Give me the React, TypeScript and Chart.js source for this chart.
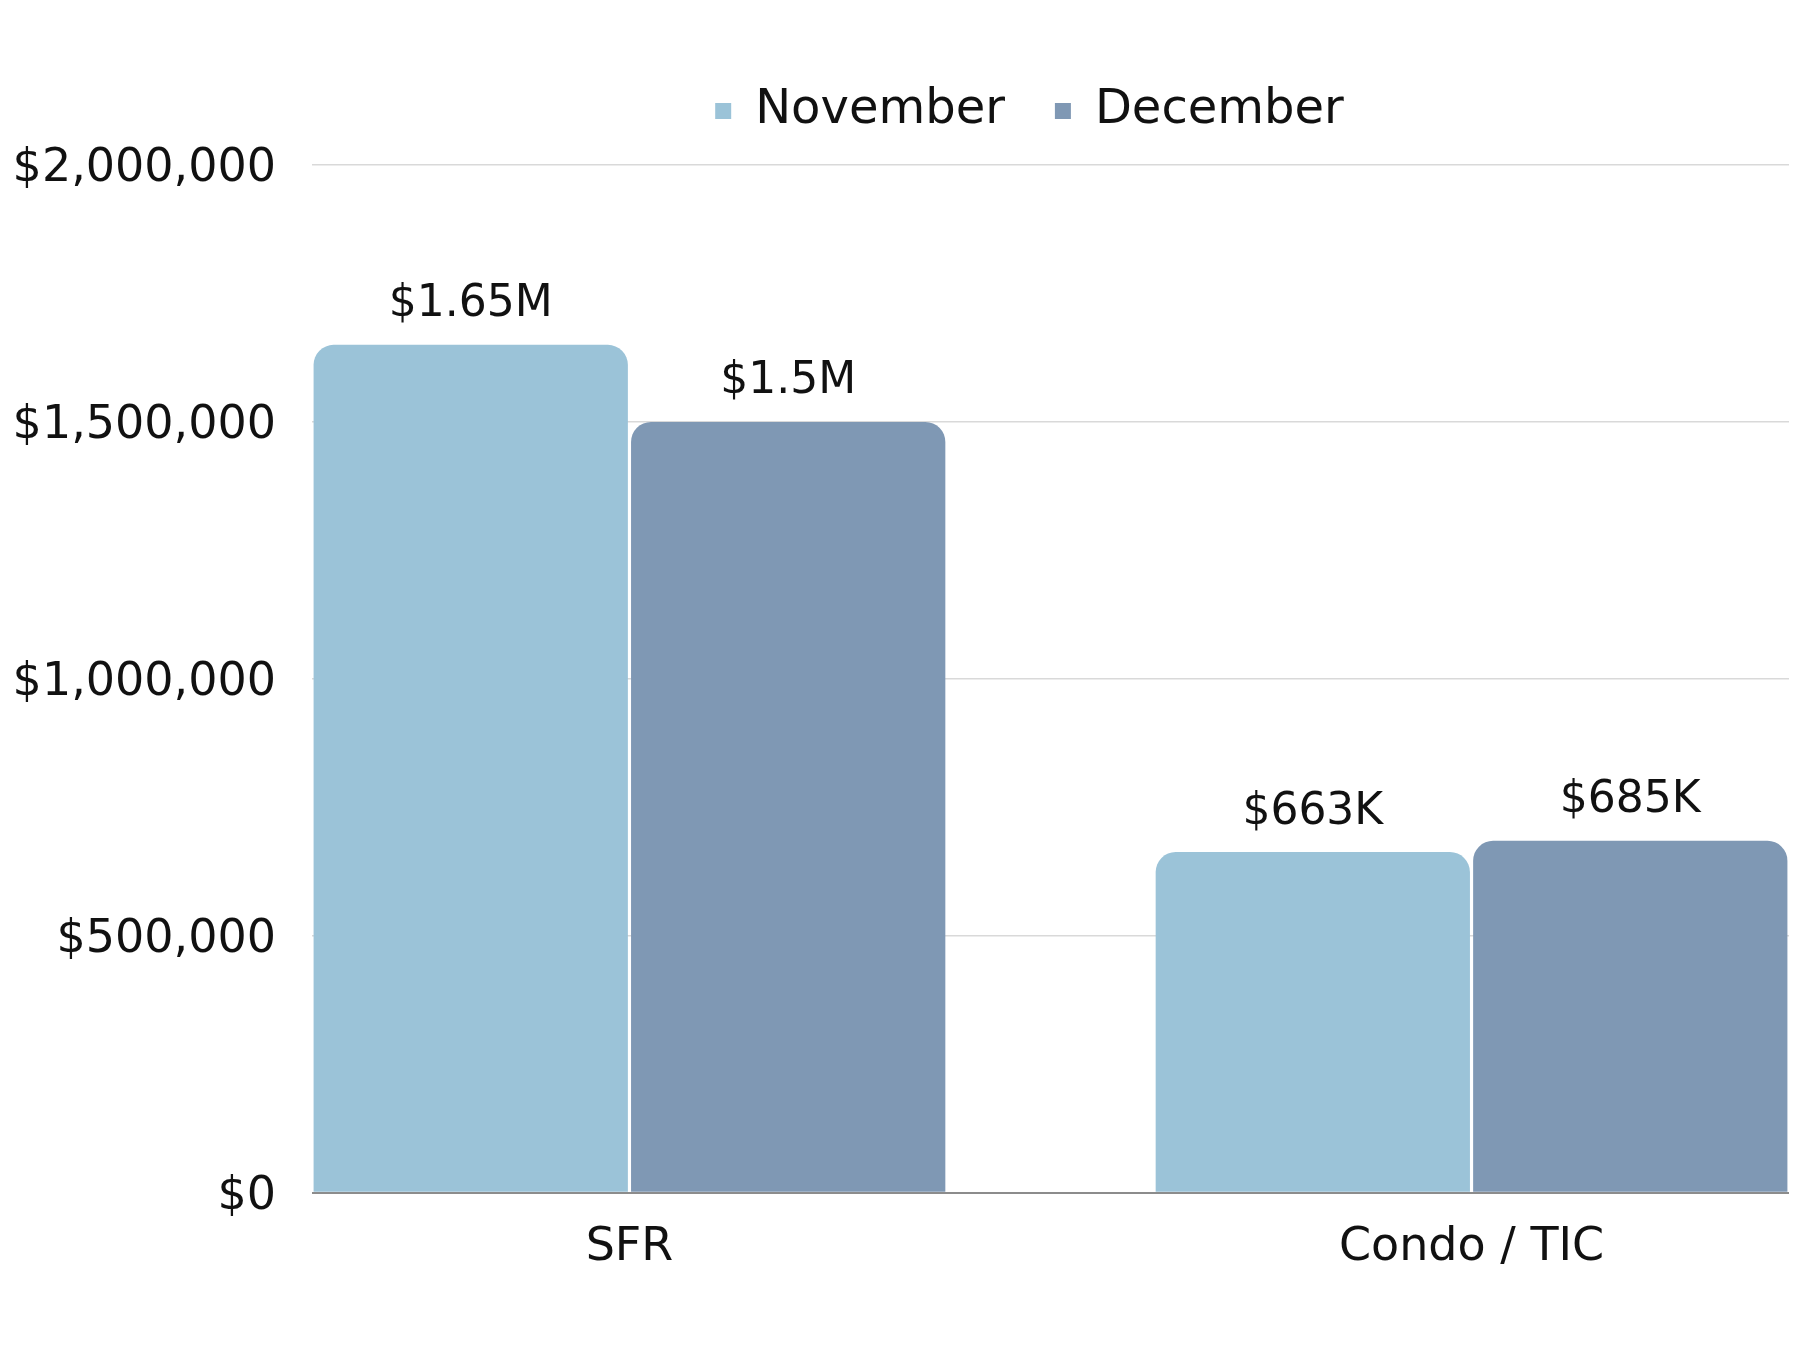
import React, { useEffect, useRef } from "react";
import { Chart, registerables } from "chart.js";

Chart.register(...registerables);

const categories = ["SFR", "Condo / TIC"];
const seriesNames = ["November", "December"];
const novemberValues = [1650000, 663000];
const decemberValues = [1500000, 685000];
const seriesColors = ["#9BC3D8", "#7F98B4"];
const yTicks = [0, 500000, 1000000, 1500000, 2000000];

const FONT = "'DejaVu Sans', sans-serif";
const CAT_PCT = 0.754;
const LEGEND_SHIFT = 129;

function fmtTick(v: number) {
  return "$" + Math.round(v).toLocaleString("en-US");
}
function fmtLabel(v: number) {
  if (v >= 1000000) return "$" + +(v / 1000000).toFixed(2) + "M";
  return "$" + Math.round(v / 1000) + "K";
}

const dataLabelPlugin = {
  id: "barValueLabels",
  afterDatasetsDraw(chart: any) {
    const ctx = chart.ctx;
    ctx.save();
    ctx.font = `44px ${FONT}`;
    ctx.fillStyle = "#111111";
    ctx.textAlign = "center";
    ctx.textBaseline = "middle";
    chart.data.datasets.forEach((ds: any, di: number) => {
      const meta = chart.getDatasetMeta(di);
      meta.data.forEach((el: any, i: number) => {
        ctx.fillText(fmtLabel(ds.data[i]), el.x, el.y - 40);
      });
    });
    ctx.restore();
  },
};

const legendSpacePlugin = {
  id: "legendSpace",
  beforeInit(chart: any) {
    const legend = chart.legend;
    if (!legend) return;
    const orig = legend.fit;
    legend.fit = function () {
      orig.call(this);
      this.height += 20;
    };
  },
  afterLayout(chart: any) {
    const legend = chart.legend;
    if (!legend) return;
    legend.left += LEGEND_SHIFT;
    legend.right += LEGEND_SHIFT;
  },
};

export default function App() {
  const ref = useRef<HTMLCanvasElement | null>(null);
  useEffect(() => {
    document.body.style.margin = "0";
    const canvas = ref.current;
    if (!canvas) return;
    const chart = new Chart(canvas, {
      type: "bar",
      data: {
        labels: categories,
        datasets: [
          {
            label: seriesNames[0],
            data: novemberValues,
            backgroundColor: seriesColors[0],
            borderRadius: 20,
            borderSkipped: "bottom",
            categoryPercentage: CAT_PCT,
            barPercentage: 0.99,
          },
          {
            label: seriesNames[1],
            data: decemberValues,
            backgroundColor: seriesColors[1],
            borderRadius: 20,
            borderSkipped: "bottom",
            categoryPercentage: CAT_PCT,
            barPercentage: 0.99,
          },
        ],
      },
      options: {
        responsive: false,
        animation: false,
        devicePixelRatio: 1,
        layout: { padding: { top: 37, left: 12, right: 11, bottom: 46 } },
        plugins: {
          legend: {
            display: true,
            position: "top",
            labels: {
              boxWidth: 16,
              boxHeight: 16,
              padding: 50,
              color: "#111111",
              font: { family: FONT, size: 48 },
            },
          },
          tooltip: { enabled: false },
        },
        scales: {
          x: {
            type: "category",
            offset: true,
            afterBuildTicks: (scale: any) => {
              scale._startValue = -CAT_PCT / 2;
              scale._valueRange = categories.length - 1 + CAT_PCT;
            },
            grid: { display: false, drawTicks: false },
            border: { display: false },
            ticks: {
              padding: 28,
              color: "#111111",
              font: { family: FONT, size: 46 },
              maxRotation: 0,
            },
          },
          y: {
            min: 0,
            max: 2000000,
            afterBuildTicks: (scale: any) => {
              scale.ticks = yTicks.map((v) => ({ value: v }));
            },
            afterFit: (scale: any) => {
              scale.width = 300;
            },
            grid: {
              drawTicks: false,
              color: (c: any) => (c.tick && c.tick.value === 0 ? "#8c8c8c" : "#d9d9d9"),
              lineWidth: (c: any) => (c.tick && c.tick.value === 0 ? 2 : 1.5),
            },
            border: { display: false },
            ticks: {
              padding: 36,
              labelOffset: 4,
              color: "#111111",
              font: { family: FONT, size: 46 },
              callback: (v: any) => fmtTick(Number(v)),
            },
          },
        },
      },
      plugins: [dataLabelPlugin, legendSpacePlugin],
    } as any);
    return () => chart.destroy();
  }, []);
  return (
    <div style={{ width: 1800, height: 1350, background: "#ffffff" }}>
      <canvas ref={ref} width={1800} height={1350} style={{ display: "block" }} />
    </div>
  );
}
